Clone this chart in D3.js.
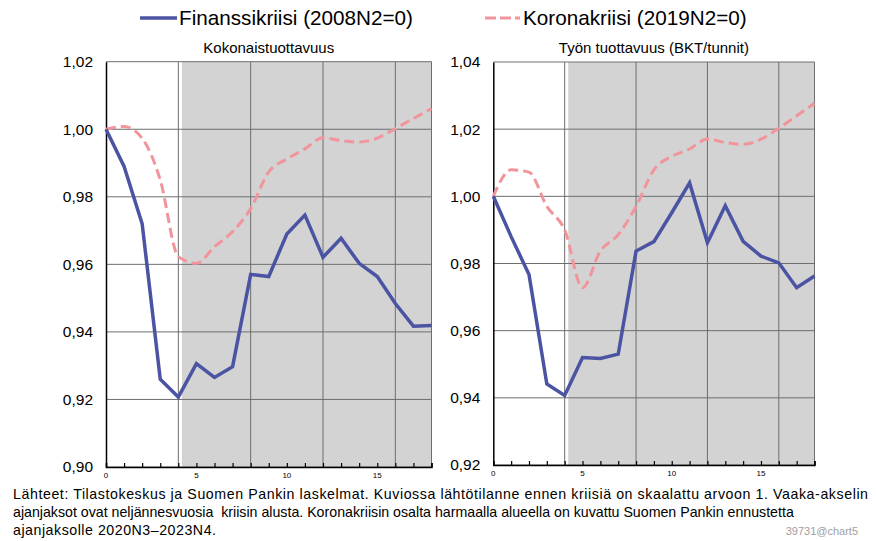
<!DOCTYPE html>
<html>
<head>
<meta charset="utf-8">
<script src="https://cdnjs.cloudflare.com/ajax/libs/d3/7.8.5/d3.min.js"></script>
<style>
  body { margin: 0; background: #fff; }
  svg { display: block; font-family: "Liberation Sans", Arial, sans-serif; }
</style>
</head>
<body>
<div id="chart"></div>
<script>
// quarters since start of crisis
var quarters = [0, 1, 2, 3, 4, 5, 6, 7, 8, 9, 10, 11, 12, 13, 14, 15, 16, 17, 18];

// Kokonaistuottavuus
var kokFinanssi = [1.000, 0.989, 0.972, 0.926, 0.9207, 0.9306, 0.9265, 0.9297, 0.957, 0.9564,
                   0.969, 0.9746, 0.9621, 0.9677, 0.9603, 0.9564, 0.9484, 0.9417, 0.9419];
var kokKorona   = [1.000, 1.0008, 0.9973, 0.985, 0.9623, 0.9603, 0.9652, 0.9697, 0.9765, 0.9874,
                   0.9912, 0.9942, 0.9975, 0.9966, 0.9962, 0.9974, 1.0002, 1.0032, 1.0061];

// Työn tuottavuus (BKT/tunnit)
var tyoFinanssi = [1.000, 0.988, 0.9767, 0.9441, 0.9407, 0.952, 0.9517, 0.953, 0.9837, 0.9865,
                   0.9951, 1.004, 0.9862, 0.9972, 0.9866, 0.9822, 0.9802, 0.9728, 0.9763];
var tyoKorona   = [1.000, 1.0079, 1.0072, 0.997, 0.990, 0.9728, 0.9837, 0.9886, 0.997, 1.0079,
                   1.0119, 1.0141, 1.0171, 1.016, 1.0155, 1.017, 1.0203, 1.024, 1.0277];

var kokTicks = [0.90, 0.92, 0.94, 0.96, 0.98, 1.00, 1.02];
var tyoTicks = [0.92, 0.94, 0.96, 0.98, 1.00, 1.02, 1.04];
var xLabels = [0, 5, 10, 15];
var xGrid = [4, 8, 12, 16];
var forecastStart = 4.2;

var seriesNames = ["Finanssikriisi (2008N2=0)", "Koronakriisi (2019N2=0)"];
var titles = ["Kokonaistuottavuus", "Työn tuottavuus (BKT/tunnit)"];
var footer = [
  "Lähteet: Tilastokeskus ja Suomen Pankin laskelmat. Kuviossa lähtötilanne ennen kriisiä on skaalattu arvoon 1. Vaaka-akselin",
  "ajanjaksot ovat neljännesvuosia  kriisin alusta. Koronakriisin osalta harmaalla alueella on kuvattu Suomen Pankin ennustetta",
  "ajanjaksolle 2020N3–2023N4."
];

var blue = "#4b53a3", pink = "#f2949b";

var width = 876, height = 541;
var svg = d3.select("#chart").append("svg")
    .attr("width", width)
    .attr("height", height);

svg.append("rect").attr("width", width).attr("height", height).attr("fill", "#fff");

var fmt = function (d) { return d3.format(".2f")(d).replace(".", ","); };

function panel(box, ticks, fin, kor, title) {
    var x = d3.scaleLinear().domain([0, 18]).range([box.x0, box.x1]);
    var y = d3.scaleLinear().domain([ticks[0], ticks[ticks.length - 1]]).range([box.y1, box.y0]);
    var g = svg.append("g");

    // forecast area
    g.append("rect")
        .attr("x", x(forecastStart))
        .attr("y", y.range()[1])
        .attr("width", x(18) - x(forecastStart))
        .attr("height", y.range()[0] - y.range()[1])
        .attr("fill", "#d3d3d3");

    // grid
    g.selectAll(".hg").data(ticks).enter().append("line")
        .attr("x1", x(0)).attr("x2", x(18))
        .attr("y1", function (d) { return y(d); })
        .attr("y2", function (d) { return y(d); })
        .attr("stroke", "#6e6e6e").attr("stroke-width", 1);
    g.selectAll(".vg").data(xGrid).enter().append("line")
        .attr("x1", function (d) { return x(d); })
        .attr("x2", function (d) { return x(d); })
        .attr("y1", y.range()[1]).attr("y2", y.range()[0])
        .attr("stroke", "#6e6e6e").attr("stroke-width", 1);
    g.append("line")
        .attr("x1", x(18)).attr("x2", x(18))
        .attr("y1", y.range()[1]).attr("y2", y.range()[0])
        .attr("stroke", "#6e6e6e");

    // axes
    var xAxis = d3.axisBottom(x).tickValues(quarters).tickSize(-4).tickFormat("");
    g.append("g").attr("transform", "translate(0," + y.range()[0] + ")").call(xAxis)
        .call(function (a) {
            a.select(".domain").attr("stroke", "#000").attr("stroke-width", 1.5);
            a.selectAll(".tick line").attr("stroke", "#000").attr("stroke-width", 1.2);
        });
    g.selectAll(".xl").data(xLabels).enter().append("text")
        .attr("x", function (d) { return x(d); })
        .attr("y", y.range()[0] + 11)
        .attr("text-anchor", "middle")
        .attr("font-size", 8)
        .attr("fill", "#000")
        .text(function (d) { return d; });

    var yAxis = d3.axisLeft(y).tickValues(ticks).tickSize(0).tickPadding(13).tickFormat(fmt);
    g.append("g").attr("transform", "translate(" + x(0) + ",0)").call(yAxis)
        .call(function (a) {
            a.select(".domain").attr("stroke", "#000").attr("stroke-width", 1.5);
            a.selectAll("text").attr("font-size", 15.5).attr("fill", "#000")
                .attr("font-family", "'Liberation Sans', Arial, sans-serif");
        });

    // lines
    var lineFin = d3.line()
        .x(function (d, i) { return x(quarters[i]); })
        .y(function (d) { return y(d); });
    var lineKor = d3.line()
        .x(function (d, i) { return x(quarters[i]); })
        .y(function (d) { return y(d); })
        .curve(d3.curveMonotoneX);

    g.append("path").datum(kor)
        .attr("d", lineKor)
        .attr("fill", "none").attr("stroke", pink)
        .attr("stroke-width", 3).attr("stroke-dasharray", "10,5");
    g.append("path").datum(fin)
        .attr("d", lineFin)
        .attr("fill", "none").attr("stroke", blue)
        .attr("stroke-width", 3.5).attr("stroke-linejoin", "miter");

    svg.append("text")
        .attr("x", (box.x0 + box.x1) / 2)
        .attr("y", 52.5)
        .attr("text-anchor", "middle")
        .attr("font-size", 15)
        .text(title);
}

panel({ x0: 106, x1: 431.5, y0: 61.7, y1: 467 }, kokTicks, kokFinanssi, kokKorona, titles[0]);
panel({ x0: 493.3, x1: 814.5, y0: 62, y1: 465 }, tyoTicks, tyoFinanssi, tyoKorona, titles[1]);

// legend
var legend = svg.append("g");
legend.append("line").attr("x1", 140).attr("x2", 177).attr("y1", 18).attr("y2", 18)
    .attr("stroke", blue).attr("stroke-width", 3.5);
legend.append("text").attr("x", 179).attr("y", 25).attr("font-size", 20.7).text(seriesNames[0]);
legend.append("line").attr("x1", 485).attr("x2", 520).attr("y1", 18).attr("y2", 18)
    .attr("stroke", pink).attr("stroke-width", 3).attr("stroke-dasharray", "11,4");
legend.append("text").attr("x", 523).attr("y", 25).attr("font-size", 20.7).text(seriesNames[1]);

// footer
svg.append("text").attr("x", 13).attr("y", 499).attr("font-size", 14.2)
    .attr("textLength", 855).attr("lengthAdjust", "spacing").text(footer[0]);
svg.append("text").attr("x", 13).attr("y", 517).attr("font-size", 14.2)
    .attr("xml:space", "preserve").style("white-space", "pre").text(footer[1]);
svg.append("text").attr("x", 13).attr("y", 535).attr("font-size", 14.2)
    .attr("textLength", 203).attr("lengthAdjust", "spacing").text(footer[2]);
svg.append("text").attr("x", 858).attr("y", 535).attr("text-anchor", "end")
    .attr("font-size", 11).attr("fill", "#a0a0a0").text("39731@chart5");
</script>
</body>
</html>
